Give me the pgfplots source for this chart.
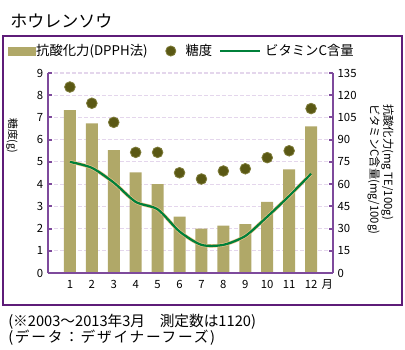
\documentclass[border=0pt]{standalone}
\usepackage{pgfplots}
\pgfplotsset{compat=1.18}
\usepackage{pgfplotstable}
\usepackage{fontspec}
\setmainfont{Noto Sans CJK JP}
\definecolor{barcol}{HTML}{B0A868}
\definecolor{dotcol}{HTML}{5A5814}
\definecolor{dotedge}{HTML}{7E7C3A}
\definecolor{vcgreen}{HTML}{00803A}
\definecolor{vcorange}{HTML}{F4C48C}
\definecolor{axpurple}{HTML}{7E4A9C}
\definecolor{gridpurple}{HTML}{E4D6EC}
\definecolor{framepurple}{HTML}{5E1C78}

\pgfplotstableread{
m anti sugar vc
1 110 8.37 75
2 101 7.64 71
3 83 6.78 61
4 68 5.43 48
5 60 5.43 43
6 38 4.51 28
7 30 4.23 19
8 32 4.59 19
9 33 4.69 25
10 48 5.19 38
11 70 5.50 52
12 99 7.40 67
}\data

\pgfplotsset{myax/.style={scale only axis, width=213.75pt, height=150pt,
  at={(36pt,-204.75pt)}, anchor=south west, xmin=0, xmax=13, ymin=0,
  clip=false,
  axis line style={axpurple, line width=1.2pt, -},
  tick align=inside, major tick length=3pt,
  ticklabel style={font=\fontsize{8.5}{9}\selectfont},
  /pgf/number format/assume math mode=true}}

\begin{document}
\begin{tikzpicture}
\useasboundingbox (0,0) rectangle (303.75pt,-262.5pt);
\begin{scope}[x=0.75pt,y=-0.75pt]
\draw[framepurple, line width=1.5pt] (3,36) rectangle (402,305);
\node[anchor=west, font=\fontsize{12.75}{14}\selectfont, inner sep=0] at (10,21) {ホウレンソウ};
\node[anchor=west, font=\fontsize{11}{12}\selectfont, inner sep=0] at (8,322) {(※2003～2013年3月　測定数は1120)};
\node[anchor=west, font=\fontsize{11}{12}\selectfont\addfontfeature{LetterSpace=12}, inner sep=0] at (8,338) {(データ：デザイナーフーズ)};
\end{scope}

\begin{axis}[myax, ymax=135, axis y line*=right, axis x line=none,
  ytick={0,15,...,135}, ymajorgrids,
  grid style={gridpurple, dash pattern=on 3pt off 1.5pt, line width=0.8pt},
  ytick style={axpurple, line width=1.5pt}]
\addplot[ybar, bar width=9pt, fill=barcol, draw=none] table[x=m,y=anti]{\data};
\addplot[smooth, tension=0.45, vcorange, line width=2.6pt] table[x=m,y=vc]{\data};
\addplot[smooth, tension=0.45, vcgreen, line width=1.7pt] table[x=m,y=vc]{\data};
\node[rotate=-90, anchor=north west, align=left, inner sep=0pt,
  font=\fontsize{8.5}{8}\selectfont] at (axis description cs:1.214,0.845)
  {抗酸化力(mg TE/100g)\\ビタミンC含量(mg/100g)};
\end{axis}

\begin{axis}[myax, ymax=9, axis x line*=bottom, axis y line*=left,
  ytick={0,...,9}, xtick={1,...,12}, x tick style={draw=none},
  xticklabel style={yshift=-2pt},
  ytick style={axpurple, line width=1.5pt},
  ylabel={糖度(g)},
  ylabel style={at={(axis description cs:-0.126,0.685)}, anchor=center, rotate=180,
    font=\fontsize{8}{8}\selectfont},
  legend style={at={(axis description cs:-0.14,1.11)}, anchor=west, draw=none, fill=none,
    font=\fontsize{10}{12}\selectfont, inner sep=0pt,
    /tikz/every odd column/.append style={column sep=8pt}},
  legend columns=-1]
\addlegendimage{legend image code/.code={\fill[barcol] (0pt,-3pt) rectangle (20.25pt,3pt);}}
\addlegendentry{\hspace*{-9.75pt}抗酸化力(DPPH法)\hspace*{11.25pt}}
\addlegendimage{legend image code/.code={\draw[dotedge, fill=dotcol, line width=0.6pt] (4pt,0pt) circle (3.8pt);}}
\addlegendentry{\hspace*{-3pt}糖度\hspace*{3pt}}
\addlegendimage{legend image code/.code={\draw[vcgreen, line width=2.2pt] (0pt,0pt) -- (30pt,0pt);}}
\addlegendentry{\hspace*{-7.5pt}ビタミンC含量}
\addplot[only marks, mark=*, mark size=4pt, mark options={fill=dotcol, draw=dotedge, line width=0.6pt}, forget plot] table[x=m,y=sugar]{\data};
\node[below, font=\fontsize{8.5}{9}\selectfont, inner sep=3pt, yshift=-2pt] at (axis cs:12.74,0) {月};
\end{axis}
\end{tikzpicture}
\end{document}
